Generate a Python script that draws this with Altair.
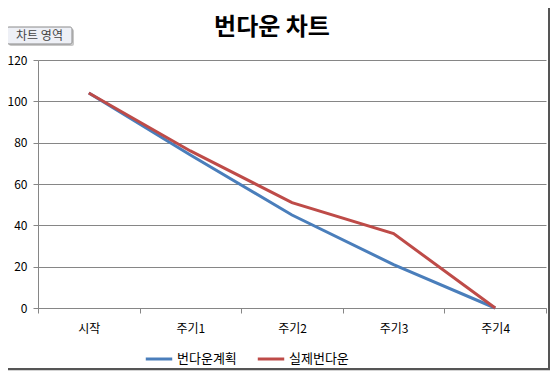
import altair as alt
import pandas as pd

categories = ["시작", "주기1", "주기2", "주기3", "주기4"]
planned = [104, 74, 45, 21, 0]
actual = [104, 76, 51, 36, 0]
series_names = ["번다운계획", "실제번다운"]
series_colors = ["#4A7EBB", "#BE4B48"]
chart_title = "번다운 차트"
tag_label = "차트 영역"

rows = []
for name, vals in zip(series_names, [planned, actual]):
    for c, v in zip(categories, vals):
        rows.append({"category": c, "series": name, "value": v})
df = pd.DataFrame(rows)

FONT = "Noto Sans CJK KR"
one = pd.DataFrame({"a": [0]})

lines = alt.Chart(df).mark_line(strokeWidth=3).encode(
    x=alt.X("category:N", sort=categories, title=None,
            axis=alt.Axis(labelAngle=0, tickBand="extent", grid=False,
                          labelPadding=10, tickSize=5, domainColor="#868686",
                          tickColor="#868686", labelFontSize=12, labelColor="#000")),
    y=alt.Y("value:Q", title=None, scale=alt.Scale(domain=[0, 120], nice=False),
            axis=alt.Axis(values=[0, 20, 40, 60, 80, 100, 120], grid=True,
                          gridColor="#868686", domainColor="#868686",
                          tickColor="#868686", tickSize=5, labelFontSize=12,
                          labelColor="#000", labelPadding=6)),
    color=alt.Color("series:N", sort=series_names,
                    scale=alt.Scale(domain=series_names, range=series_colors),
                    legend=alt.Legend(title=None, orient="none", direction="horizontal",
                                      legendX=106, legendY=284, symbolType="stroke",
                                      symbolSize=700, symbolStrokeWidth=3,
                                      labelFontSize=13, labelColor="#000",
                                      columnPadding=14, padding=0, labelOffset=3)),
)

title_text = alt.Chart(one).mark_text(
    text=chart_title, font=FONT, fontSize=24, fontWeight="bold", color="#000",
    baseline="middle", align="center"
).encode(x=alt.value(234), y=alt.value(-32))

tag_shadow = alt.Chart(one).mark_rect(fill="#c8c8c8", cornerRadius=2).encode(
    x=alt.value(-29), x2=alt.value(36), y=alt.value(-31), y2=alt.value(-14))
tag_box = alt.Chart(one).mark_rect(
    fill="#eef0f6", stroke="#8a8a8a", cornerRadius=2, strokeWidth=1
).encode(x=alt.value(-31), x2=alt.value(34), y=alt.value(-33), y2=alt.value(-16))
tag_text = alt.Chart(one).mark_text(
    text=tag_label, font=FONT, fontSize=12, color="#444"
).encode(x=alt.value(1.5), y=alt.value(-24.5))

frame_r = alt.Chart(one).mark_rule(color="#555", strokeWidth=2).encode(
    x=alt.value(511), y=alt.value(-60), y2=alt.value(310))
frame_b = alt.Chart(one).mark_rule(color="#555", strokeWidth=2).encode(
    x=alt.value(-38), x2=alt.value(512), y=alt.value(309))
shadow_r = alt.Chart(one).mark_rule(color="#c4c4c4", strokeWidth=1.5).encode(
    x=alt.value(513), y=alt.value(-56), y2=alt.value(311.5))
shadow_b = alt.Chart(one).mark_rule(color="#c4c4c4", strokeWidth=1.5).encode(
    x=alt.value(-34), x2=alt.value(514), y=alt.value(311))

chart = alt.layer(lines, title_text, tag_shadow, tag_box, tag_text,
                  shadow_r, shadow_b, frame_r, frame_b).properties(
    width=508, height=248,
    autosize=alt.AutoSizeParams(type="none"),
    padding={"left": 30, "top": 52, "right": 4, "bottom": 63},
).configure(font=FONT).configure_view(strokeWidth=0).configure_axis(
    labelFont=FONT).configure_legend(labelFont=FONT)

chart.save("out.html", embed_options={"renderer": "svg", "actions": False})
